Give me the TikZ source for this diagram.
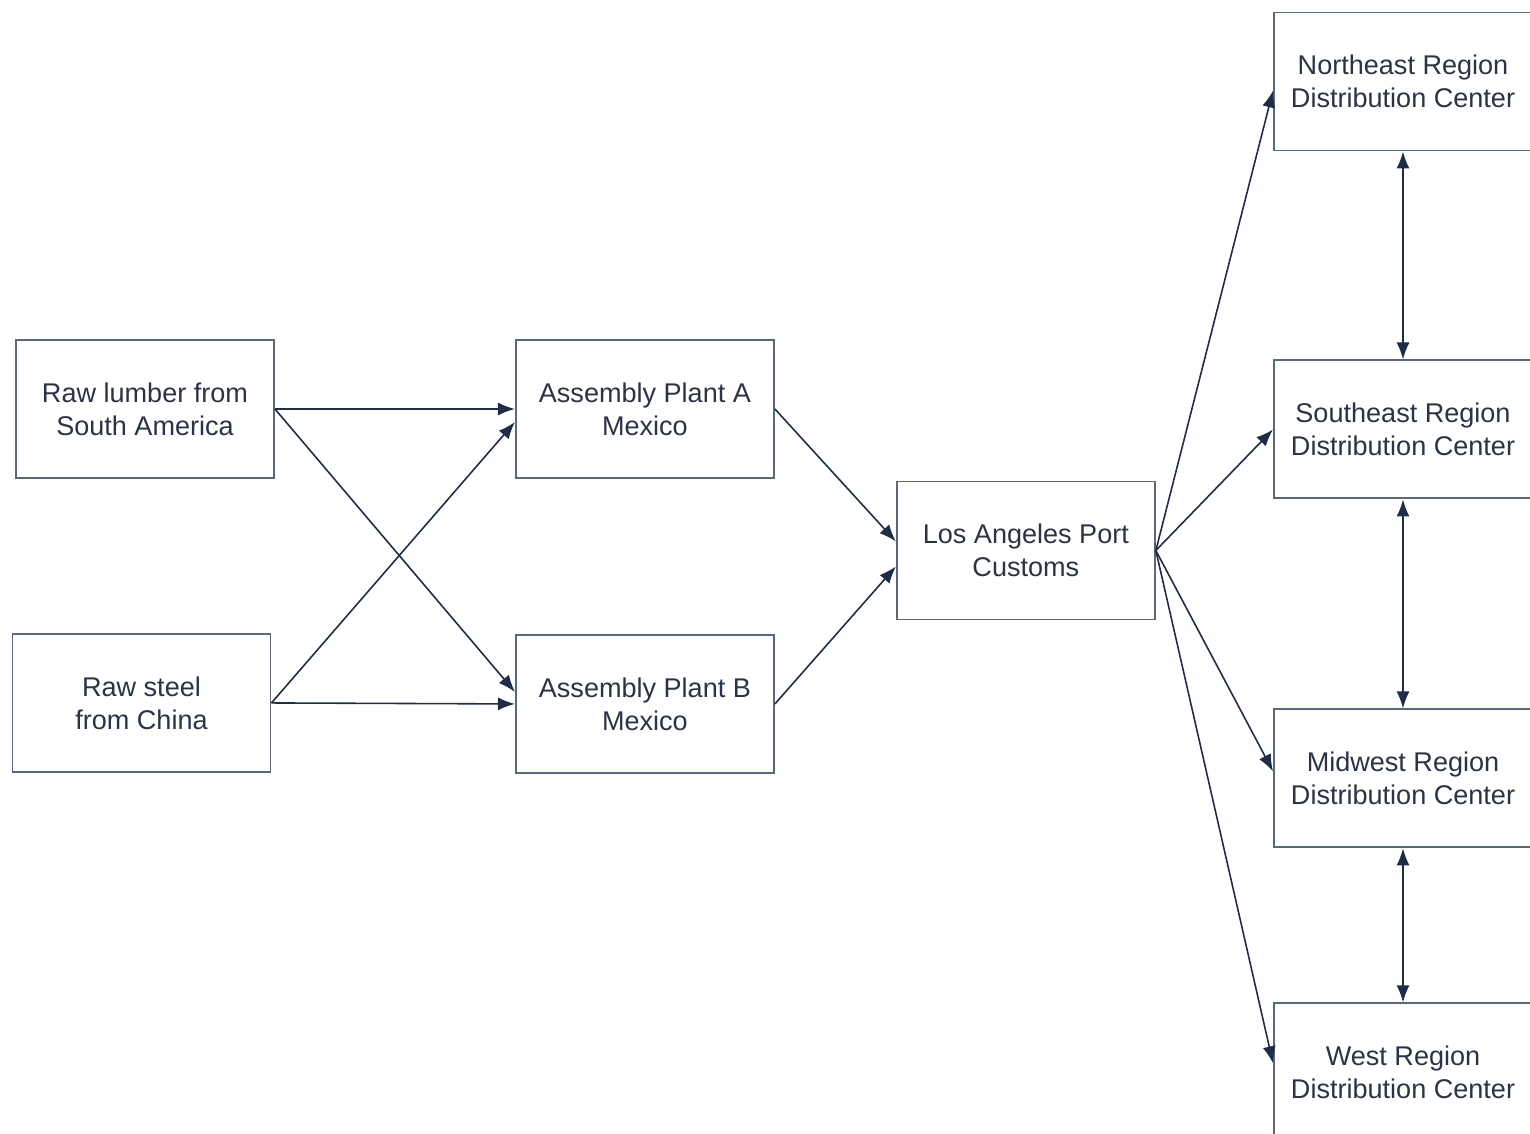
\documentclass[tikz,border=0pt]{standalone}
\usepackage{fontspec}
\setmainfont{Liberation Sans}
\usepackage{tikz}
\usetikzlibrary{arrows.meta,positioning,calc}
\usepackage{xcolor}
\definecolor{inkline}{HTML}{1F2C48}
\definecolor{boxline}{HTML}{5A6878}
\definecolor{inktext}{HTML}{2A3446}

\begin{document}
\begin{tikzpicture}[
				site/.style={draw=boxline,line width=0.55pt,rectangle,minimum width=2.58cm,minimum height=1.38cm,inner sep=1pt,text=inktext,font=\fontsize{7.7}{9.4}\selectfont,align=center},
				flow/.style={-{Latex[length=1.7mm,width=1.3mm]},line width=0.45pt,inkline},
				swap/.style={{Latex[length=1.7mm,width=1.3mm]}-{Latex[length=1.7mm,width=1.3mm]},line width=0.45pt,inkline}
				]
				\useasboundingbox (0,0) rectangle (15.3,11.33);
				
				\node[site] (lumber) at (1.45,7.24) {Raw lumber from\\South America};
				\node[site,below=1.54cm of lumber,xshift=-0.35mm] (steel) {Raw steel\\from China};
				\node[site,right=2.4cm of lumber] (plantA) {Assembly Plant A\\Mexico};
				\node[site,below=1.55cm of plantA] (plantB) {Assembly Plant B\\Mexico};
				\node[site,right=1.21cm of $(plantA.east)!0.5!(plantB.east)$,yshift=0.6mm] (port) {Los Angeles Port\\Customs};
				\node[site] (ne) at (14.03,10.515) {Northeast Region\\Distribution Center};
				\node[site,below=2.08cm of ne] (se) {Southeast Region\\Distribution Center};
				\node[site,below=2.09cm of se] (mw) {Midwest Region\\Distribution Center};
				\node[site,below=1.54cm of mw] (west) {West Region\\Distribution Center};
				
				% Flussi
				\draw[flow] (lumber.east) -- (plantA.west);
				\draw[flow] (lumber.east) -- ([yshift=1.2mm]plantB.west);
				\draw[flow] (steel.east) -- ([yshift=-1.3mm]plantA.west);
				\draw[flow] (steel.east) -- (plantB.west);
				\draw[flow] (plantA.east) -- ([yshift=0.9mm]port.west);
				\draw[flow] (plantB.east) -- ([yshift=-1.6mm]port.west);
				\draw[flow] (port.east) -- ([yshift=-0.9mm]ne.west);
				\draw[flow] (port.east) -- (se.west);
				\draw[flow] (port.east) -- ([yshift=0.7mm]mw.west);
				\draw[flow] (port.east) -- ([yshift=0.9mm]west.west);
				\draw[swap] (ne.south) -- (se.north);
				\draw[swap] (se.south) -- (mw.north);
				\draw[swap] (mw.south) -- (west.north);
				
			\end{tikzpicture}
\end{document}
